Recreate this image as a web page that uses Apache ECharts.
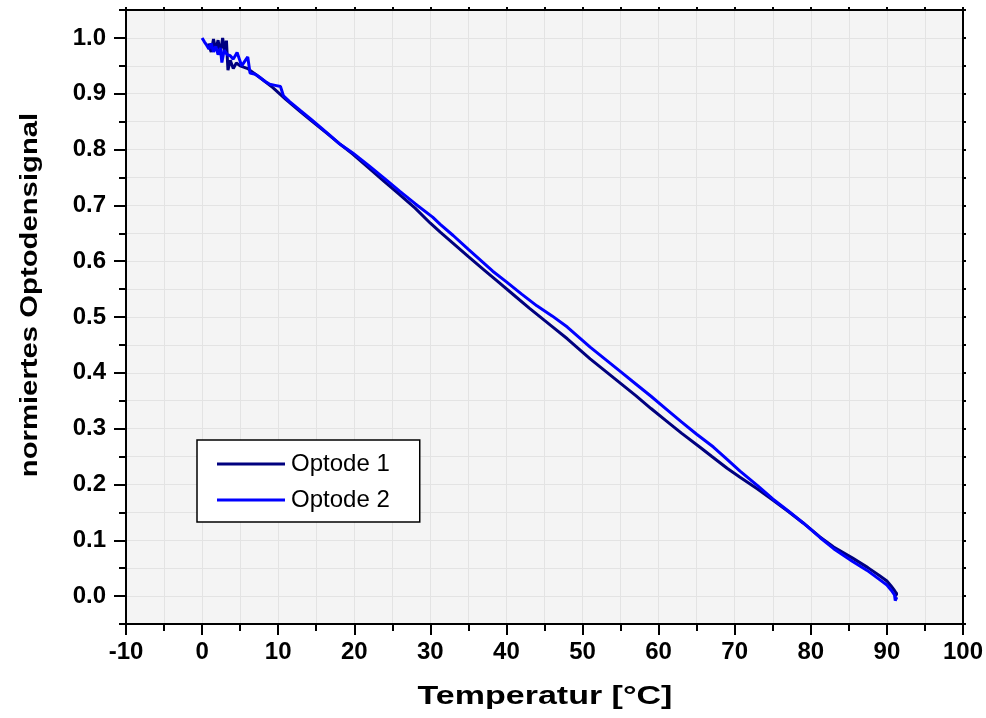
<!DOCTYPE html>
<html>
<head>
<meta charset="utf-8">
<script src="https://cdn.jsdelivr.net/npm/echarts@6/dist/echarts.min.js"></script>
<style>
html,body{margin:0;padding:0;background:#fff;}
#chart{width:986px;height:718px;}
</style>
</head>
<body>
<div id="chart"></div>
<script>
// ---- data ----
var seriesNames = ['Optode 1', 'Optode 2'];
var xTitle = 'Temperatur [°C]';
var yTitle = 'normiertes Optodensignal';
var yTickLabels = [0.0, 0.1, 0.2, 0.3, 0.4, 0.5, 0.6, 0.7, 0.8, 0.9, 1.0];

var optode1T = [0.8, 1.2, 1.5, 1.8, 2.1, 2.4, 2.7, 3.0, 3.2, 3.4, 3.7, 4.1, 4.5, 5.0, 6.0, 7.5, 9.3, 11.0, 12.9, 14.5, 16.5, 18.0, 19.8, 22.0, 24.0, 26.0, 28.0, 30.0, 31.3, 33.0, 35.0, 37.0, 39.0, 41.0, 43.0, 45.0, 46.1, 48.0, 51.0, 53.0, 55.0, 57.0, 59.0, 61.0, 63.0, 65.4, 67.0, 69.0, 70.7, 73.0, 75.0, 77.0, 79.0, 81.2, 83.0, 85.5, 87.5, 89.0, 90.0, 90.5, 91.0, 91.3, 91.1];
var optode1V = [0.990, 0.975, 0.998, 0.978, 0.996, 0.972, 1.000, 0.975, 0.995, 0.942, 0.960, 0.945, 0.955, 0.950, 0.945, 0.930, 0.911, 0.890, 0.868, 0.850, 0.828, 0.811, 0.792, 0.766, 0.742, 0.719, 0.695, 0.668, 0.652, 0.632, 0.608, 0.585, 0.562, 0.539, 0.516, 0.494, 0.482, 0.461, 0.425, 0.403, 0.381, 0.359, 0.336, 0.314, 0.292, 0.267, 0.250, 0.229, 0.213, 0.192, 0.172, 0.152, 0.131, 0.106, 0.088, 0.068, 0.051, 0.037, 0.027, 0.019, 0.010, 0.004, 0.000];

var optode2T = [0.0, 0.3, 0.6, 0.9, 1.2, 1.5, 1.8, 2.1, 2.4, 2.6, 2.9, 3.3, 3.7, 4.1, 4.6, 4.9, 5.2, 5.6, 6.0, 6.3, 7.0, 7.6, 8.3, 8.9, 9.6, 10.3, 10.7, 11.5, 12.9, 14.5, 16.5, 18.0, 19.8, 22.0, 24.0, 26.0, 28.0, 30.3, 31.3, 33.0, 35.0, 38.2, 40.0, 42.0, 44.0, 46.0, 48.0, 51.0, 53.0, 55.0, 57.0, 59.0, 61.0, 63.0, 65.0, 67.2, 69.0, 70.7, 73.0, 75.0, 77.0, 79.0, 81.2, 83.0, 85.5, 87.4, 89.0, 90.0, 90.6, 91.0, 91.1, 91.3];
var optode2V = [1.000, 0.993, 0.987, 0.980, 0.990, 0.975, 0.985, 0.970, 0.982, 0.956, 0.978, 0.970, 0.968, 0.962, 0.974, 0.962, 0.950, 0.958, 0.966, 0.937, 0.935, 0.929, 0.922, 0.917, 0.915, 0.913, 0.896, 0.886, 0.870, 0.852, 0.829, 0.811, 0.794, 0.770, 0.748, 0.725, 0.703, 0.679, 0.666, 0.646, 0.621, 0.582, 0.563, 0.541, 0.520, 0.502, 0.482, 0.446, 0.424, 0.402, 0.380, 0.358, 0.335, 0.312, 0.290, 0.267, 0.245, 0.224, 0.198, 0.174, 0.153, 0.131, 0.105, 0.085, 0.062, 0.046, 0.030, 0.020, 0.010, 0.002, -0.008, -0.002];

function zip(a, b) { var r = []; for (var i = 0; i < a.length; i++) r.push([a[i], b[i]]); return r; }

var FONT = '"Liberation Sans", Arial, sans-serif';
var chart = echarts.init(document.getElementById('chart'), null, {renderer: 'canvas'});
var gridColor = '#e3e3e3';

var option = {
  backgroundColor: '#ffffff',
  animation: false,
  grid: {left: 126, right: 23, top: 10, bottom: 94, show: true, backgroundColor: '#f4f4f4', borderWidth: 0},
  legend: {
    data: seriesNames,
    orient: 'vertical',
    left: 197, top: 440,
    backgroundColor: '#ffffff',
    borderColor: '#000',
    borderWidth: 1.5,
    borderRadius: 0,
    padding: [12, 30, 10, 20],
    itemWidth: 68, itemHeight: 3, itemGap: 12,
    icon: 'rect',
    textStyle: {fontFamily: FONT, fontSize: 24, color: '#000', padding: [0,0,0,1]}
  },
  xAxis: [{
    type: 'value', min: -10, max: 100, interval: 10, position: 'bottom',
    axisLine: {show: true, onZero: false, lineStyle: {color: '#000', width: 2}},
    axisTick: {show: true, inside: false, length: 11, lineStyle: {color: '#000', width: 2}},
    minorTick: {show: true, splitNumber: 2, length: 7, lineStyle: {color: '#000', width: 2}},
    splitLine: {show: true, lineStyle: {color: gridColor, width: 1}},
    minorSplitLine: {show: true, lineStyle: {color: gridColor, width: 1}},
    axisLabel: {fontFamily: FONT, fontSize: 24, fontWeight: 'bold', color: '#000', margin: 16}
  }, {
    type: 'value', min: -10, max: 100, interval: 10, position: 'top',
    axisLine: {show: true, onZero: false, lineStyle: {color: '#000', width: 2}},
    axisTick: {show: true, inside: false, length: 3, lineStyle: {color: '#000', width: 2}},
    minorTick: {show: true, splitNumber: 2, length: 3, lineStyle: {color: '#000', width: 2}},
    splitLine: {show: false}, axisLabel: {show: false}
  }],
  yAxis: [{
    type: 'value', min: -0.05, max: 1.05, position: 'left',
    axisLine: {show: true, onZero: false, lineStyle: {color: '#000', width: 2}},
    axisTick: {show: true, inside: false, length: 12, customValues: yTickLabels, lineStyle: {color: '#000', width: 2}},
    splitLine: {show: false},
    axisLabel: {customValues: yTickLabels, fontFamily: FONT, fontSize: 24, fontWeight: 'bold', color: '#000', margin: 20,
      formatter: function (v) { return v.toFixed(1); }}
  }, {
    type: 'value', min: -0.05, max: 1.05, interval: 0.05, position: 'left',
    axisLine: {show: false, onZero: false},
    axisTick: {show: true, inside: false, length: 7, lineStyle: {color: '#000', width: 2}},
    splitLine: {show: true, lineStyle: {color: gridColor, width: 1}},
    axisLabel: {show: false}
  }, {
    type: 'value', min: -0.05, max: 1.05, interval: 0.05, position: 'right',
    axisLine: {show: true, onZero: false, lineStyle: {color: '#000', width: 2}},
    axisTick: {show: true, inside: false, length: 3, lineStyle: {color: '#000', width: 2}},
    splitLine: {show: false}, axisLabel: {show: false}
  }],
  graphic: [{
    type: 'text', x: 30, y: 295, rotation: Math.PI / 2, scaleX: 1.22,
    style: {text: yTitle, font: 'bold 24px ' + FONT, fill: '#000', align: 'center', verticalAlign: 'middle'}
  }, {
    type: 'text', x: 545, y: 697, scaleX: 1.36,
    style: {text: xTitle, font: 'bold 25px ' + FONT, fill: '#000', align: 'center', verticalAlign: 'middle'}
  }],
  series: [{
    name: seriesNames[0], type: 'line', xAxisIndex: 0, yAxisIndex: 0,
    data: zip(optode1T, optode1V), showSymbol: false, symbol: 'none',
    lineStyle: {color: '#00007f', width: 3}, itemStyle: {color: '#00007f'}
  }, {
    name: seriesNames[1], type: 'line', xAxisIndex: 0, yAxisIndex: 0,
    data: zip(optode2T, optode2V), showSymbol: false, symbol: 'none',
    lineStyle: {color: '#0000ff', width: 3}, itemStyle: {color: '#0000ff'}
  }]
};
chart.setOption(option);
</script>
</body>
</html>
